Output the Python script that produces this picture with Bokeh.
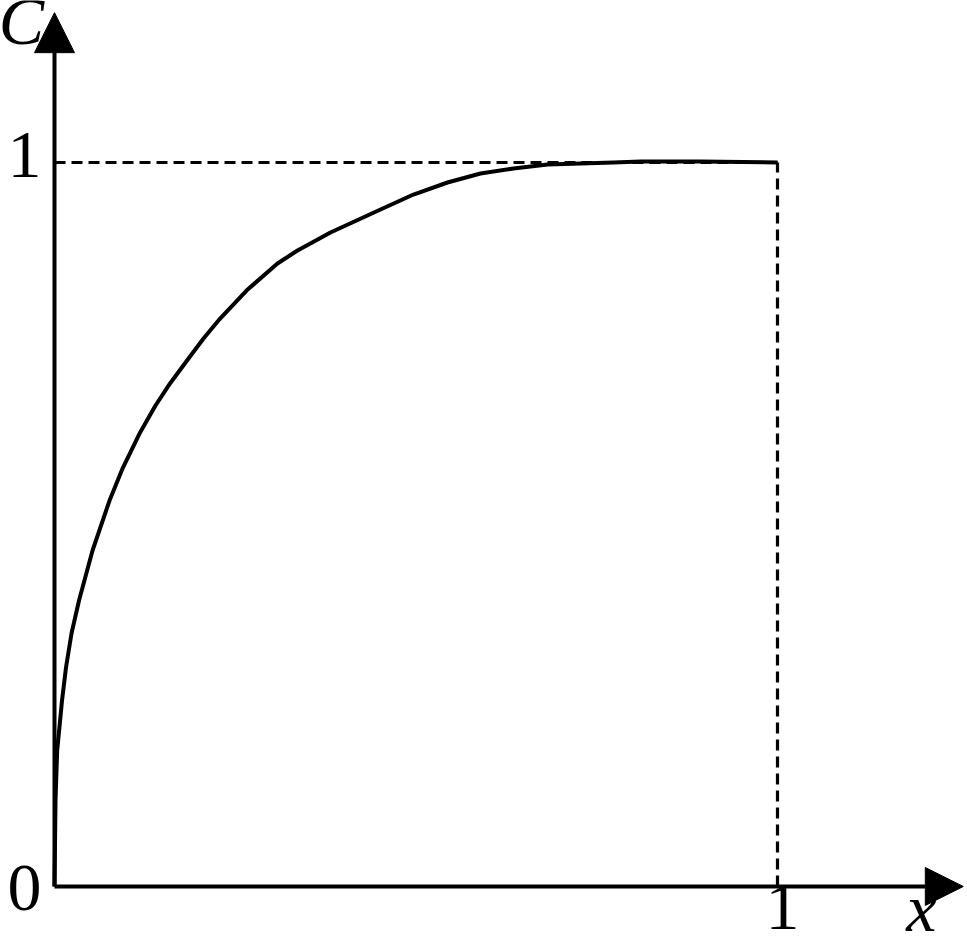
from bokeh.plotting import figure
from bokeh.models import Range1d, Arrow, NormalHead
from bokeh.core.properties import value
from bokeh.embed import file_html
from bokeh.resources import INLINE

# Curve C(x)
curve_x = [0.0, 0.0014, 0.0037, 0.0104, 0.0159, 0.0235, 0.0339, 0.0526, 0.0761,
           0.0947, 0.1176, 0.1397, 0.1598, 0.1833, 0.2061, 0.2268, 0.2656,
           0.3084, 0.3361, 0.3817, 0.4509, 0.4965, 0.5436, 0.5892, 0.6349,
           0.6819, 0.7275, 0.7732, 0.8105, 0.8935, 1.0]
curve_y = [0.0, 0.1188, 0.1878, 0.2569, 0.3025, 0.3494, 0.3950, 0.4641, 0.5331,
           0.5787, 0.6257, 0.6644, 0.6948, 0.7265, 0.7569, 0.7818, 0.8232,
           0.8605, 0.8785, 0.9033, 0.9351, 0.9558, 0.9724, 0.9848, 0.9917,
           0.9972, 0.9986, 1.0, 1.0014, 1.0014, 1.0]

x_ticks = [1]
x_tick_labels = ["1"]
y_ticks = [0, 1]
y_tick_labels = ["0", "1"]
x_label = "x"
y_label = "C"
x_axis_end = 1.257
y_axis_end = 1.207
limit_value = 1.0

FONT = value("Liberation Serif")
FS = "68px"

p = figure(width=967, height=946, output_backend="svg", toolbar_location=None,
           x_range=Range1d(-0.0747, 1.2628), y_range=Range1d(-0.0829, 1.2238),
           min_border=0, outline_line_color=None)
p.axis.visible = False
p.grid.visible = False

# dashed guide lines
p.line([0, limit_value], [limit_value, limit_value], line_color="black",
       line_width=3.2, line_dash="11 6")
p.line([limit_value, limit_value], [0, limit_value], line_color="black",
       line_width=3.2, line_dash="11 6")

# curve
p.line(curve_x, curve_y, line_color="black", line_width=4, line_join="round")

# axes with arrows
p.add_layout(Arrow(x_start=0, y_start=0, x_end=x_axis_end, y_end=0,
                   line_width=4, line_color="black",
                   end=NormalHead(size=38, fill_color="black", line_color="black", line_width=1)))
p.add_layout(Arrow(x_start=0, y_start=0, x_end=0, y_end=y_axis_end,
                   line_width=4, line_color="black",
                   end=NormalHead(size=40, fill_color="black", line_color="black", line_width=1)))

# tick labels
p.text(x=[0] * len(y_ticks), y=y_ticks, text=y_tick_labels, x_offset=-30,
       y_offset=[2, -8], text_font=FONT, text_font_size=FS,
       text_align="center", text_baseline="alphabetic", text_color="black")
p.text(x=x_ticks, y=[0] * len(x_ticks), text=x_tick_labels, x_offset=5,
       y_offset=21, text_font=FONT, text_font_size=FS,
       text_align="center", text_baseline="alphabetic", text_color="black")

# axis labels
p.text(x=[x_axis_end], y=[0], text=[x_label], x_offset=-42, y_offset=22,
       text_font=FONT, text_font_size=FS, text_font_style="italic",
       text_align="center", text_baseline="alphabetic", text_color="black")
p.text(x=[0], y=[y_axis_end], text=[y_label], x_offset=-33, y_offset=8,
       text_font=FONT, text_font_size=FS, text_font_style="italic",
       text_align="center", text_baseline="alphabetic", text_color="black")

open("out.html", "w").write(file_html(p, INLINE))
